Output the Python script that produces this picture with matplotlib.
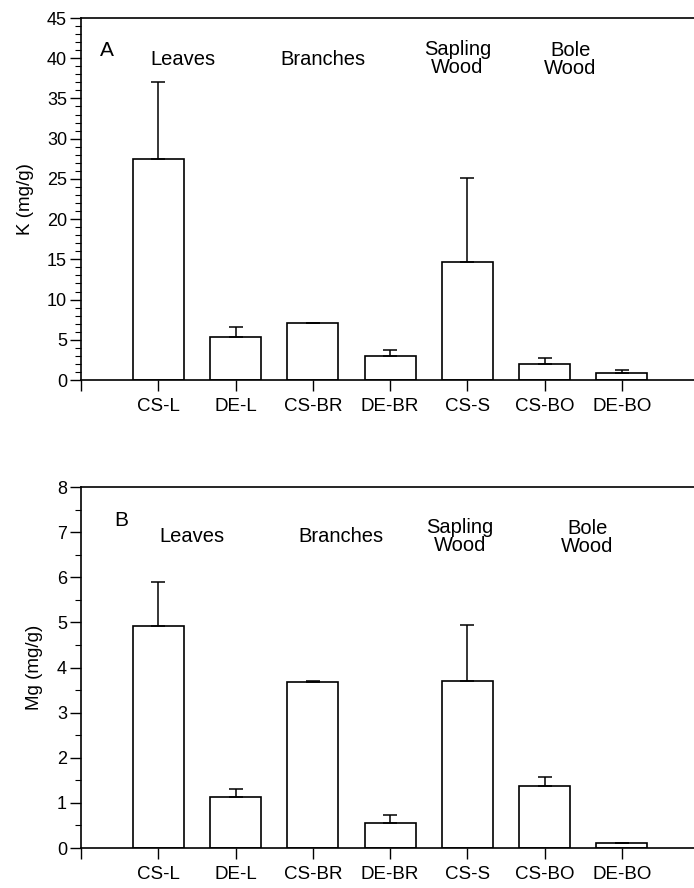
import matplotlib
matplotlib.use("Agg")
import matplotlib.pyplot as plt
from matplotlib.ticker import MultipleLocator

plt.rcParams['font.family'] = ['Liberation Sans', 'DejaVu Sans']

# data
samples = ['CS-L', 'DE-L', 'CS-BR', 'DE-BR', 'CS-S', 'CS-BO', 'DE-BO']
k_mean = [27.5, 5.3, 7.1, 3.0, 14.7, 2.0, 0.9]
k_err = [9.6, 1.25, 0.0, 0.75, 10.4, 0.75, 0.3]
mg_mean = [4.92, 1.14, 3.68, 0.55, 3.70, 1.38, 0.10]
mg_err = [0.98, 0.16, 0.03, 0.18, 1.25, 0.19, 0.02]
tissues = ['Leaves', 'Branches', 'Sapling\nWood', 'Bole\nWood']

W, H = 694, 888
fig = plt.figure(figsize=(W / 100, H / 100), dpi=100)

x = list(range(1, len(samples) + 1))
xmax = (W - 80) / 77.4


def panel(rect, mean, err, ymax, major, minor, ylabel, label_x, letter, letter_xy, tissue_xy):
    ax = fig.add_axes(rect)
    ax.bar(x, mean, width=0.66, color='white', edgecolor='black', linewidth=1.2, zorder=2)
    ax.errorbar(x, mean, yerr=[[0] * len(err), err], fmt='none', ecolor='black',
                elinewidth=1.1, capsize=5, capthick=1.1, zorder=3)
    ax.set_xlim(0, xmax)
    ax.set_ylim(0, ymax)
    ax.spines['right'].set_visible(False)
    for s in ['left', 'bottom', 'top']:
        ax.spines[s].set_linewidth(1.2)
    ax.set_xticks([0] + x)
    ax.set_xticklabels([''] + samples, fontsize=13.5)
    ax.tick_params(axis='x', direction='out', length=8, width=1.0, pad=5)
    ax.yaxis.set_major_locator(MultipleLocator(major))
    ax.yaxis.set_minor_locator(MultipleLocator(minor))
    ax.tick_params(axis='y', which='major', direction='out', length=8, width=1.0, labelsize=13, pad=2)
    ax.tick_params(axis='y', which='minor', direction='out', length=4, width=0.8)
    ax.set_ylabel(ylabel, fontsize=13.5)
    ax.yaxis.set_label_coords(label_x, 0.5)
    ax.text(letter_xy[0], letter_xy[1], letter, fontsize=15, ha='center', va='center')
    for (tx, ty), name in zip(tissue_xy, tissues):
        ax.text(tx, ty, name, fontsize=14.5, ha='center', va='center', linespacing=0.95)
    return ax


panel([81 / W, 1 - 380 / H, 1 - 81 / W, (380 - 18) / H], k_mean, k_err, 45, 5, 1,
      'K (mg/g)', -0.077, 'A', (0.33, 41.0),
      [(1.32, 39.9), (3.13, 39.9), (4.87, 40.0), (6.33, 39.8)])
panel([81 / W, 1 - 848 / H, 1 - 81 / W, (848 - 487) / H], mg_mean, mg_err, 8, 1, 0.5,
      'Mg (mg/g)', -0.062, 'B', (0.52, 7.25),
      [(1.43, 6.9), (3.37, 6.9), (4.9, 6.9), (6.55, 6.88)])

fig.savefig('out.png', dpi=100)
